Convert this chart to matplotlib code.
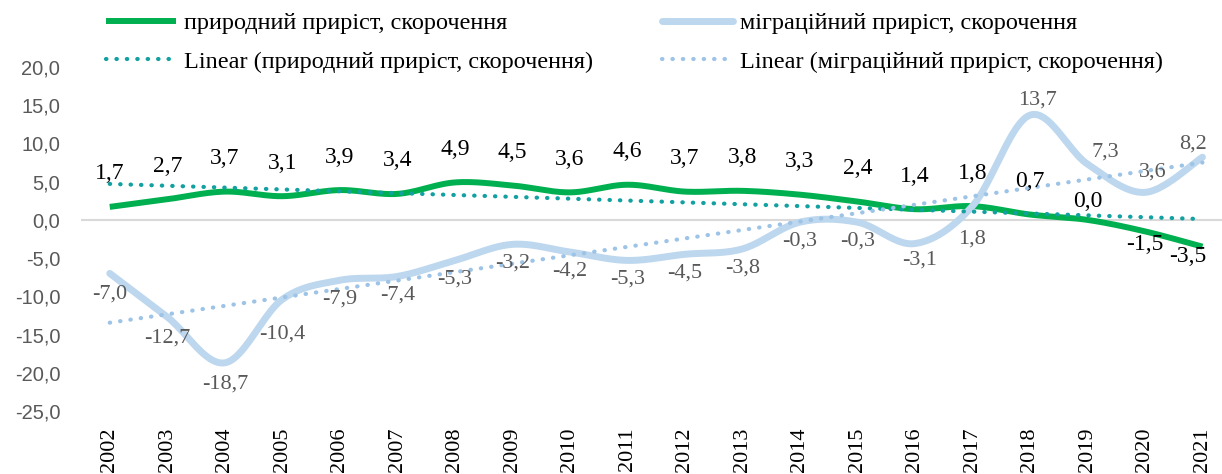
import numpy as np
import matplotlib
matplotlib.use("Agg")
import matplotlib.pyplot as plt
from matplotlib.lines import Line2D

years = [str(y) for y in range(2002, 2022)]
natural = [1.7, 2.7, 3.7, 3.1, 3.9, 3.4, 4.9, 4.5, 3.6, 4.6,
           3.7, 3.8, 3.3, 2.4, 1.4, 1.8, 0.7, 0.0, -1.5, -3.5]
migration = [-7.0, -12.7, -18.7, -10.4, -7.9, -7.4, -5.3, -3.2, -4.2, -5.3,
             -4.5, -3.8, -0.3, -0.3, -3.1, 1.8, 13.7, 7.3, 3.6, 8.2]

name_nat = "природний приріст, скорочення"
name_mig = "міграційний приріст, скорочення"

# label offsets in pixels (dx, dy), dy positive = up
nat_off = [(0, 33)] * 17 + [(0, 18), (0, -13), (-15, -10)]
mig_off = ([(0, -21)] * 3 + [(0, -35)] + [(0, -19)] * 10 +
           [(5, -16), (0, -33), (8, 15), (18, 12), (8, 20), (-9, 13)])

GREEN = "#00B050"
BLUE = "#BDD7EE"
TEAL = "#12A0A0"
BLUE_T = "#9DC3E6"
GRAY = "#595959"


def smooth(y, n=24):
    # Catmull-Rom curve through the points, like Excel's smoothed line
    y = np.asarray(y, float)
    x = np.arange(len(y), dtype=float)
    px = np.concatenate([[x[0]], x, [x[-1]]])
    py = np.concatenate([[y[0]], y, [y[-1]]])
    xs, ys = [], []
    for i in range(1, len(px) - 2):
        t = np.linspace(0, 1, n, endpoint=False)
        for p, out in ((px, xs), (py, ys)):
            p0, p1, p2, p3 = p[i - 1], p[i], p[i + 1], p[i + 2]
            out.extend(0.5 * (2 * p1 + (-p0 + p2) * t +
                              (2 * p0 - 5 * p1 + 4 * p2 - p3) * t ** 2 +
                              (-p0 + 3 * p1 - 3 * p2 + p3) * t ** 3))
    xs.append(x[-1])
    ys.append(y[-1])
    return np.array(xs), np.array(ys)


fig = plt.figure(figsize=(12.22, 4.74), dpi=100)
ax = fig.add_axes([81 / 1222, 1 - 411 / 474, 1141 / 1222, 344 / 474])

x = np.arange(len(years))
ax.axhline(0, color="#D9D9D9", lw=1.5, zorder=1)

sx, sy = smooth(natural)
ax.plot(sx, sy, color=GREEN, lw=4.3, solid_capstyle="butt", zorder=3)
mx, my = smooth(migration)
ax.plot(mx, my, color=BLUE, lw=5, solid_capstyle="round", zorder=4)

dots = (0, (0.1, 2.4))
k, b = np.polyfit(x, natural, 1)
ax.plot(x, k * x + b, color=TEAL, lw=3, ls=dots, dash_capstyle="round", zorder=5)
k2, b2 = np.polyfit(x, migration, 1)
ax.plot(x, k2 * x + b2, color=BLUE_T, lw=3, ls=dots, dash_capstyle="round", zorder=5)

fmt = lambda v: f"{v:.1f}".replace(".", ",")
for i, v in enumerate(natural):
    dx, dy = nat_off[i]
    ax.annotate(fmt(v), (i, v), xytext=(dx * 0.72, dy * 0.72), textcoords="offset points",
                ha="center", va="center", fontsize=17, family="Liberation Serif",
                color="black", zorder=6)
for i, v in enumerate(migration):
    dx, dy = mig_off[i]
    ax.annotate(fmt(v), (i, v), xytext=(dx * 0.72, dy * 0.72), textcoords="offset points",
                ha="center", va="center", fontsize=16, family="Liberation Serif",
                color=GRAY, zorder=6)

ax.set_xlim(-0.5, 19.34)
ax.set_ylim(-25, 20)
ax.set_yticks(range(-25, 21, 5))
ax.set_yticklabels([fmt(v) for v in range(-25, 21, 5)], family="Liberation Sans",
                   fontsize=14.5, color=GRAY)
ax.set_xticks(x)
ax.set_xticklabels(years, rotation=90, family="Liberation Serif", fontsize=16, color="black")
ax.tick_params(axis="y", length=0, pad=15)
ax.tick_params(axis="x", length=0, pad=12)
for s in ax.spines.values():
    s.set_visible(False)

handles = [
    Line2D([], [], color=GREEN, lw=4.3, solid_capstyle="butt"),
    Line2D([], [], color=TEAL, lw=3, ls=dots, dash_capstyle="round"),
    Line2D([], [], color=BLUE, lw=5, solid_capstyle="round"),
    Line2D([], [], color=BLUE_T, lw=3, ls=dots, dash_capstyle="round"),
]
labels = [name_nat, "Linear (" + name_nat + ")", name_mig, "Linear (" + name_mig + ")"]
fig.legend(handles, labels, ncol=2, loc="upper left", bbox_to_anchor=(106 / 1222, 0.974),
           frameon=False, borderpad=0, borderaxespad=0, handlelength=2.9,
           handletextpad=0.3, columnspacing=2.85, labelspacing=0.68,
           prop={"family": "Liberation Serif", "size": 17.5})

fig.savefig("out.png", dpi=100)
